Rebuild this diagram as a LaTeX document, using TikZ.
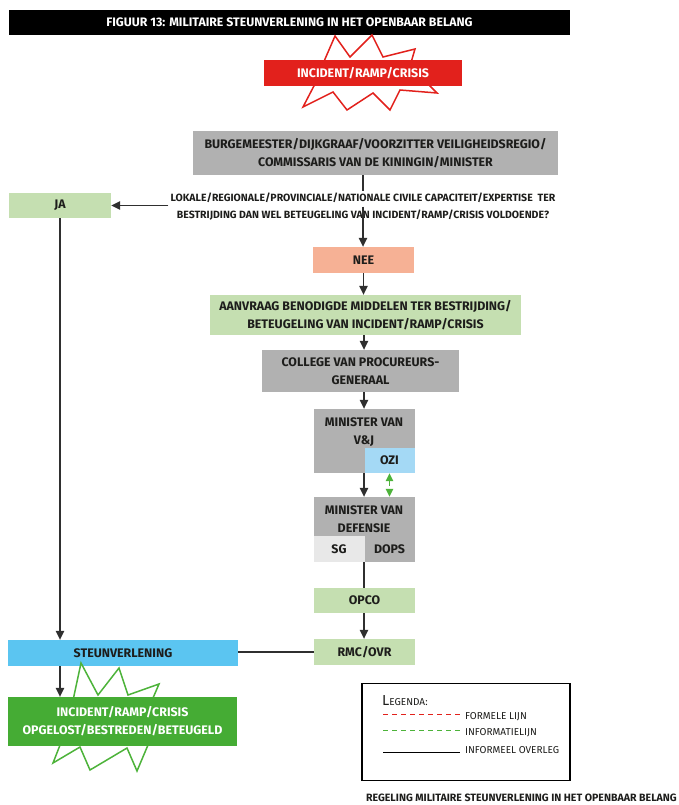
\documentclass[tikz,border=0pt]{standalone}
\usepackage{fontspec}
\setmainfont{Fira Sans}
\usetikzlibrary{arrows.meta,positioning,calc}
\definecolor{figInk}{HTML}{1D1D1B}
\definecolor{figLine}{HTML}{2F2F2F}
\definecolor{figGrey}{HTML}{B1B1B1}
\definecolor{figPale}{HTML}{E8E8E8}
\definecolor{figLeaf}{HTML}{C5DFB1}
\definecolor{figSalmon}{HTML}{F6B195}
\definecolor{figSky}{HTML}{A4D9F5}
\definecolor{figBlue}{HTML}{5BC5F1}
\definecolor{figRed}{HTML}{E2211C}
\definecolor{figGreen}{HTML}{45AC34}
\definecolor{figInfo}{HTML}{4DB33A}
\newcommand\boxfont{\fontsize{12.4}{18}\selectfont\bfseries}
\newcommand\askfont{\fontsize{10.5}{17}\selectfont\bfseries}
\newcommand\legfont{\fontsize{10}{12}\selectfont}
\tikzset{
  flowbox/.style={rectangle, inner sep=0pt, align=center, text=figInk, font=\boxfont},
  greybox/.style={flowbox, fill=figGrey},
  leafbox/.style={flowbox, fill=figLeaf},
  smallbox/.style={minimum width=101pt, minimum height=26pt},
  titlebar/.style={rectangle, fill=black, text=white, inner sep=0pt,
    minimum width=561pt, minimum height=25pt, font=\fontsize{12.3}{14}\selectfont\bfseries},
  flow/.style={-{Triangle[length=9pt,width=8.5pt]}, line width=1.2pt, draw=figLine},
  plainlink/.style={line width=1.2pt, draw=figLine},
  infoflow/.style={{Triangle[length=8pt,width=7.5pt]}-{Triangle[length=8pt,width=7.5pt]},
    line width=1.3pt, dash pattern=on 5pt off 3pt, draw=figInfo},
  burst/.style={line width=1.5pt, fill=white, line join=miter},
  legendtext/.style={font=\legfont, text=figInk, inner sep=0pt}
}
\begin{document}
\begin{tikzpicture}[x=1pt, y=-1pt]
  \useasboundingbox (0,0) rectangle (679,805);

  \node[titlebar] (titel) at (289.5,22.5) {FIGUUR 13: MILITAIRE STEUNVERLENING IN HET OPENBAAR BELANG};

  % ster achter het incident
  \draw[burst, draw=figRed] (322,66) -- (335,36) -- (350,57) -- (372,35) -- (383,57) -- (415,49)
    -- (410,66) -- (437,93) -- (400,90) -- (390,110) -- (373,93) -- (347,110) -- (333,92)
    -- (303,107) -- (316,82) -- cycle;
  \node[flowbox, fill=figRed, text=white, minimum width=198pt, minimum height=26pt] (crisis) at (363,73) {INCIDENT/RAMP/CRISIS};

  \node[greybox, minimum width=365pt, minimum height=44pt] (burg) at (375.5,153)
    {BURGEMEESTER/DIJKGRAAF/VOORZITTER VEILIGHEIDSREGIO/\\COMMISSARIS VAN DE KININGIN/MINISTER};
  \node[flowbox, font=\askfont, inner sep=2pt] (vraag) at (363,206.5)
    {LOKALE/REGIONALE/PROVINCIALE/NATIONALE CIVILE CAPACITEIT/EXPERTISE\ \ TER\\
     BESTRIJDING DAN WEL BETEUGELING VAN INCIDENT/RAMP/CRISIS VOLDOENDE?};
  \node[leafbox, minimum width=102pt, minimum height=25pt] (ja) at (60,205.5) {JA};
  \node[flowbox, smallbox, fill=figSalmon] (nee) at (363.5,260) {NEE};
  \node[leafbox, minimum width=311pt, minimum height=40pt] (aanvraag) at (365.5,315)
    {AANVRAAG BENODIGDE MIDDELEN TER BESTRIJDING/\\BETEUGELING VAN INCIDENT/RAMP/CRISIS};
  \node[greybox, minimum width=197pt, minimum height=42pt] (college) at (360.5,371)
    {COLLEGE VAN PROCUREURS-\\GENERAAL};

  \node[greybox, minimum width=101pt, minimum height=64pt] (vj) at (364,441) {};
  \node[flowbox, below=8.5pt of vj.north] (vjtekst) {MINISTER VAN\\V\&J};
  \node[flowbox, fill=figSky, minimum width=50pt, minimum height=25pt, anchor=south east] (ozi) at (vj.south east) {OZI};

  \node[greybox, minimum width=101pt, minimum height=65pt] (def) at (364,529.5) {};
  \node[flowbox, below=8.5pt of def.north] (deftekst) {MINISTER VAN\\DEFENSIE};
  \node[flowbox, fill=figPale, minimum width=51pt, minimum height=26pt, anchor=south west] (sg) at (def.south west) {SG};
  \node[flowbox, minimum width=50pt, minimum height=26pt, anchor=south east] (dops) at (def.south east) {DOPS};

  \node[leafbox, smallbox, minimum height=25pt] (opco) at (364.5,600.5) {OPCO};
  \node[leafbox, smallbox] (rmc) at (364.5,652) {RMC/OVR};
  \node[flowbox, fill=figBlue, minimum width=230pt, minimum height=26pt] (steun) at (123,653) {STEUNVERLENING};

  % ster achter het resultaat
  \draw[burst, draw=figInfo] (72,705) -- (81,663) -- (98,695) -- (119,668) -- (128,695) -- (159,684)
    -- (150,705) -- (175,735) -- (148,745) -- (137,771) -- (127,748) -- (90,770) -- (80,747)
    -- (53,763) -- (62,740) -- cycle;
  \node[flowbox, fill=figGreen, text=white, minimum width=229pt, minimum height=49pt] (opgelost) at (122.5,721.5)
    {INCIDENT/RAMP/CRISIS\\OPGELOST/BESTREDEN/BETEUGELD};

  \draw[plainlink] (burg.south -| vraag.north) -- (vraag.north);
  \draw[flow] (vraag.center) -- (nee.north -| vraag.center);
  \draw[flow] (vraag.west |- ja) -- (ja.east);
  \draw[flow] (ja.south) -- (ja.south |- steun.north);
  \draw[flow] (nee.south) -- (nee.south |- aanvraag.north);
  \draw[flow] (aanvraag.south -| vj) -- (college.north -| vj);
  \draw[flow] (college.south -| vj) -- (vj.north);
  \draw[flow] (vj.south) -- (def.north -| vj.south);
  \draw[infoflow] (ozi.south) -- (ozi.south |- def.north);
  \draw[plainlink] (def.south -| vj) -- (opco.north -| vj);
  \draw[flow] (opco.south -| vj) -- (rmc.north -| vj);
  \draw[plainlink] (rmc.west) -- (rmc.west -| steun.east);
  \draw[flow] (steun.south -| ja.south) -- (opgelost.north -| ja.south);

  % legenda
  \node[draw=black, line width=1.2pt, minimum width=208pt, minimum height=97pt, inner sep=0pt] (legenda) at (466,732) {};
  \node[legendtext, anchor=west] (legkop) at (382,701) {{\fontsize{14.5}{14}\selectfont L}EGENDA:};
  \coordinate (rood1) at (383,714);
  \coordinate (rood2) at (460,714);
  \coordinate (groen1) at (383,730);
  \coordinate (groen2) at (460,730);
  \coordinate (zwart1) at (383,752);
  \coordinate (zwart2) at (460,752);
  \draw[draw=figRed, line width=1pt, dash pattern=on 5pt off 4pt] (rood1) -- (rood2);
  \draw[draw=figInfo, line width=1pt, dash pattern=on 5pt off 4pt] (groen1) -- (groen2);
  \draw[draw=black, line width=1pt] (zwart1) -- (zwart2);
  \node[legendtext, anchor=west] (formeel) at (465,717) {FORMELE LIJN};
  \node[legendtext, anchor=west] (info) at (465,733) {INFORMATIELIJN};
  \node[legendtext, anchor=west] (overleg) at (465,750) {INFORMEEL OVERLEG};

  \node[flowbox, font=\fontsize{10.6}{12}\selectfont\bfseries, anchor=east] (bron) at (677,798)
    {REGELING MILITAIRE STEUNVERLENING IN HET OPENBAAR BELANG};
\end{tikzpicture}
\end{document}
